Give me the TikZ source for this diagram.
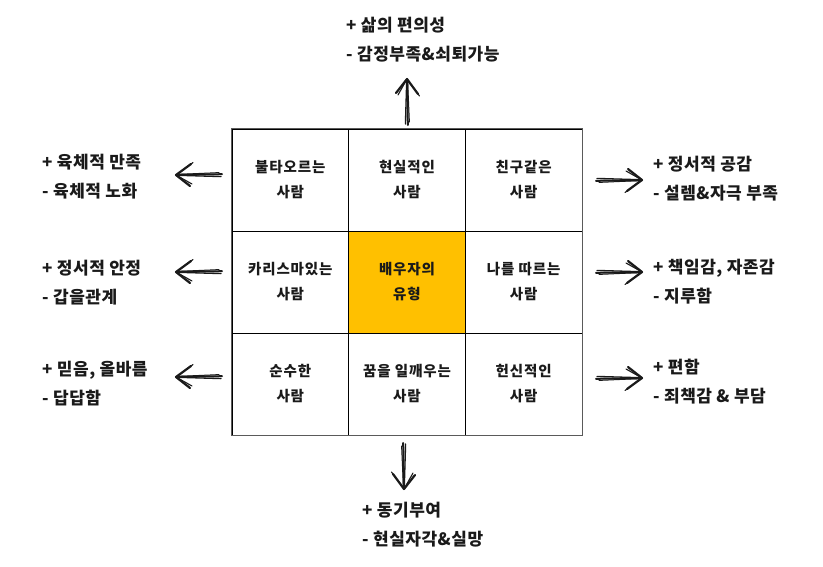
\documentclass[tikz,border=0pt]{standalone}
\usepackage{fontspec}
\setmainfont{Noto Sans CJK KR}
\definecolor{ink}{HTML}{1A1A1A}
\definecolor{gold}{HTML}{FFC000}
\definecolor{frame}{HTML}{5A5A5A}
\begin{document}
\begin{tikzpicture}[x=1pt,y=-1pt,
  cell/.style={draw=black, line width=0.8pt, minimum width=116.7pt, minimum height=102pt,
    inner sep=0pt, align=center, font=\fontsize{14.5}{25}\selectfont\bfseries\addfontfeature{LetterSpace=6}, text=ink},
  lbl/.style={anchor=west, align=left, inner sep=0pt, font=\fontsize{17}{29}\selectfont\bfseries\addfontfeature{LetterSpace=3}, text=ink},
  stroke/.style={draw=ink, line cap=round, line join=round},
  sarrow/.pic={
    \draw[stroke, line width=2pt] (0,0.8) -- (46,0.2);
    \draw[stroke, line width=1.3pt] (1,-1.6) -- (45,-0.3);
    \draw[stroke, line width=1.0pt] (3,2.4) -- (44,0.6);
    \draw[stroke, line width=2.2pt] (32,-11) -- (46,0) -- (31,11);
    \draw[stroke, line width=1.1pt] (30,-9) -- (45,-0.6);
    \draw[stroke, line width=1.1pt] (29,12.5) -- (45,0.6);
  }]
\useasboundingbox (0,0) rectangle (823,566);
\fill[white] (0,0) rectangle (823,566);

% grid
\node[cell] (c11) at (290.3,180) {불타오르는\\사람};
\node[cell] (c12) at (407,180) {현실적인\\사람};
\node[cell] (c13) at (523.7,180) {친구같은\\사람};
\node[cell] (c21) at (290.3,282) {카리스마있는\\사람};
\node[cell, fill=gold] (c22) at (407,282) {배우자의\\유형};
\node[cell] (c23) at (523.7,282) {나를 따르는\\사람};
\node[cell] (c31) at (290.3,384) {순수한\\사람};
\node[cell] (c32) at (407,384) {꿈을 일깨우는\\사람};
\node[cell] (c33) at (523.7,384) {헌신적인\\사람};
\draw[frame, line width=1.6pt] (c11.north west) rectangle (c33.south east);

% labels
\node[lbl] (top) at (346,40) {+ 삶의 편의성\\- 감정부족\&쇠퇴가능};
\node[lbl] (l1) at (42,177) {+ 육체적 만족\\- 육체적 노화};
\node[lbl] (l2) at (42,283) {+ 정서적 안정\\- 갑을관계};
\node[lbl] (l3) at (42,384) {+ 믿음, 올바름\\- 답답함};
\node[lbl] (r1) at (653,179) {+ 정서적 공감\\- 설렘\&자극 부족};
\node[lbl] (r2) at (653,282) {+ 책임감, 자존감\\- 지루함};
\node[lbl] (r3) at (653,382) {+ 편함\\- 죄책감 \& 부담};
\node[lbl] (bot) at (362,525) {+ 동기부여\\- 현실자각\&실망};

% arrow tails
\coordinate (at) at (407,125);
\coordinate (ab) at (404,443);
\coordinate (al1) at (222,175);
\coordinate (al2) at (222,272);
\coordinate (al3) at (222,377);
\coordinate (ar1) at (596,180);
\coordinate (ar2) at (596,272);
\coordinate (ar3) at (596,378);

\pic[rotate=90] at (at) {sarrow};
\pic[rotate=-90] at (ab) {sarrow};
\pic[rotate=180] at (al1) {sarrow};
\pic[rotate=180] at (al2) {sarrow};
\pic[rotate=180] at (al3) {sarrow};
\pic at (ar1) {sarrow};
\pic at (ar2) {sarrow};
\pic at (ar3) {sarrow};
\end{tikzpicture}
\end{document}
